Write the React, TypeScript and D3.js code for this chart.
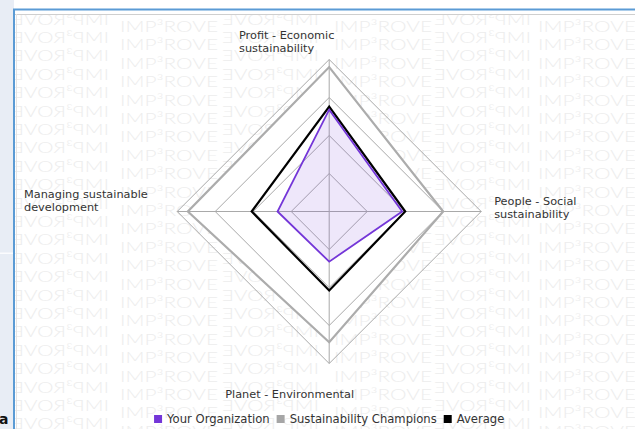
import React, { useEffect, useRef } from "react";
import * as d3 from "d3";

// axes, clockwise from the top
const axes = [
  ["Profit - Economic", "sustainability"],
  ["People - Social", "sustainability"],
  ["Planet - Environmental", "sustainability"],
  ["Managing sustainable", "development"],
];
const yourOrganization = [67, 48, 33, 34];
const average = [69, 50, 52, 51];
const champions = [95, 75, 86, 93];
const ringTicks = [25, 50, 75, 100];
const legendItems = ["Your Organization", "Sustainability Champions", "Average"];

const W = 635;
const H = 429;

const App: React.FC = () => {
  const ref = useRef<SVGSVGElement | null>(null);

  useEffect(() => {
    if (!ref.current) return;
    const svg = d3.select(ref.current);
    svg.selectAll("*").remove();

    const cx = 329.2;
    const cy = 211.5;
    const R = 152;
    const font = "'DejaVu Sans', sans-serif";
    const purple = "#7436d8";

    const rScale = d3.scaleLinear().domain([0, 100]).range([0, R]);
    const angle = d3.scalePoint<number>().domain(d3.range(axes.length + 1)).range([0, 2 * Math.PI]);

    const radial = d3
      .lineRadial<number>()
      .angle((_, i) => angle(i) as number)
      .radius((d) => rScale(d))
      .curve(d3.curveLinearClosed);

    const defs = svg.append("defs");
    defs.append("clipPath").attr("id", "area-clip")
      .append("rect").attr("x", 15).attr("y", 15).attr("width", W - 15).attr("height", H - 15);
    defs.append("clipPath").attr("id", "label-clip")
      .append("rect").attr("x", 15).attr("y", 15).attr("width", W - 15).attr("height", 403 - 15);

    // page around the chart box
    svg.append("rect").attr("width", W).attr("height", H).attr("fill", "#fff");
    svg.append("rect").attr("width", 14).attr("height", H).attr("fill", "#e8edf5");
    svg.append("rect").attr("y", 252.5).attr("width", 13).attr("height", 1.5).attr("fill", "#fbfcfe");
    svg.append("text").attr("x", -1).attr("y", 424).attr("font-family", font)
      .attr("font-weight", "bold").attr("font-size", 14).attr("fill", "#111").text("a");

    // watermark
    const wm = svg.append("g").attr("clip-path", "url(#area-clip)")
      .attr("font-family", "Lato, 'DejaVu Sans', sans-serif").attr("font-weight", 300)
      .attr("font-size", 15.5).attr("fill", "#ededed");
    const rowsN = d3.range(0, 23).map((k) => 32 + k * 18.4);
    [120, 334, 538].forEach((x0) => {
      rowsN.forEach((y) => {
        wm.append("text").attr("x", x0).attr("y", y)
          .attr("textLength", 98).attr("lengthAdjust", "spacingAndGlyphs").text("IMP³ROVE");
      });
    });
    [12, 222, 434].forEach((x0) => {
      rowsN.forEach((y) => {
        wm.append("text").attr("transform", `translate(${x0 + 97},${y - 7.5}) scale(-1,1)`)
          .attr("textLength", 97).attr("lengthAdjust", "spacingAndGlyphs").text("IMP³ROVE");
      });
    });

    // frame
    svg.append("line").attr("x1", 14).attr("x2", 14).attr("y1", 9).attr("y2", H)
      .attr("stroke", "#5b9bd5").attr("stroke-width", 2);
    svg.append("line").attr("x1", 13).attr("x2", W).attr("y1", 9.5).attr("y2", 9.5)
      .attr("stroke", "#5b9bd5").attr("stroke-width", 2);
    svg.append("line").attr("x1", 15).attr("x2", W).attr("y1", 14.5).attr("y2", 14.5)
      .attr("stroke", "#cfcfcf").attr("stroke-width", 1);
    svg.append("line").attr("x1", 16.5).attr("x2", 16.5).attr("y1", 14).attr("y2", H)
      .attr("stroke", "#e4e4e4").attr("stroke-width", 1);

    const g = svg.append("g").attr("transform", `translate(${cx},${cy})`);

    // champions polygon hides the watermark inside
    g.append("path").datum(champions).attr("d", radial).attr("fill", "#fff").attr("stroke", "none");

    // grid rings and spokes
    ringTicks.forEach((t) => {
      g.append("path").datum(axes.map(() => t)).attr("d", radial)
        .attr("fill", "none").attr("stroke", "#a9a9a9").attr("stroke-width", 1);
    });
    axes.forEach((_, i) => {
      const a = angle(i) as number;
      g.append("line")
        .attr("x1", 0).attr("y1", 0)
        .attr("x2", rScale(100) * Math.sin(a)).attr("y2", -rScale(100) * Math.cos(a))
        .attr("stroke", "#a9a9a9").attr("stroke-width", 1);
    });

    // series
    g.append("path").datum(champions).attr("d", radial)
      .attr("fill", "none").attr("stroke", "#acacac").attr("stroke-width", 2.2);
    g.append("path").datum(average).attr("d", radial)
      .attr("fill", "none").attr("stroke", "#000").attr("stroke-width", 2.2);
    g.append("path").datum(yourOrganization).attr("d", radial)
      .attr("fill", purple).attr("fill-opacity", 0.12)
      .attr("stroke", purple).attr("stroke-width", 1.8);

    // axis labels
    const labelPos = [
      { dx: -90.2, dy: -R - 21 },
      { dx: 165, dy: -6.5 },
      { dx: -104, dy: R + 34.2 },
      { dx: -305.2, dy: -13.2 },
    ];
    const lg = svg.append("g").attr("clip-path", "url(#label-clip)")
      .attr("font-family", font).attr("font-size", 11.3).attr("fill", "#333");
    axes.forEach((lines, i) => {
      const t = lg.append("text")
        .attr("x", cx + labelPos[i].dx).attr("y", cy + labelPos[i].dy);
      lines.forEach((s, j) => {
        t.append("tspan").attr("x", cx + labelPos[i].dx).attr("dy", j === 0 ? 0 : 13).text(s);
      });
    });

    // legend
    const colors = [purple, "#a6a6a6", "#000"];
    const leg = svg.append("g").attr("font-family", font).attr("font-size", 11.6).attr("fill", "#333");
    const items = legendItems.map((name, i) => {
      const it = leg.append("g");
      it.append("rect").attr("width", 8).attr("height", 8).attr("y", -8).attr("fill", colors[i]);
      const txt = it.append("text").attr("x", 13).attr("y", 0).text(name);
      const w = 13 + (txt.node() as SVGTextElement).getComputedTextLength();
      return { it, w };
    });
    const gap = 7;
    const total = d3.sum(items, (d) => d.w) + gap * (items.length - 1);
    let x = cx - total / 2;
    items.forEach(({ it, w }) => {
      it.attr("transform", `translate(${x},423)`);
      x += w + gap;
    });
  }, []);

  return (
    <svg
      ref={ref}
      width={W}
      height={H}
      style={{ position: "absolute", left: 0, top: 0, display: "block" }}
    />
  );
};

export default App;
